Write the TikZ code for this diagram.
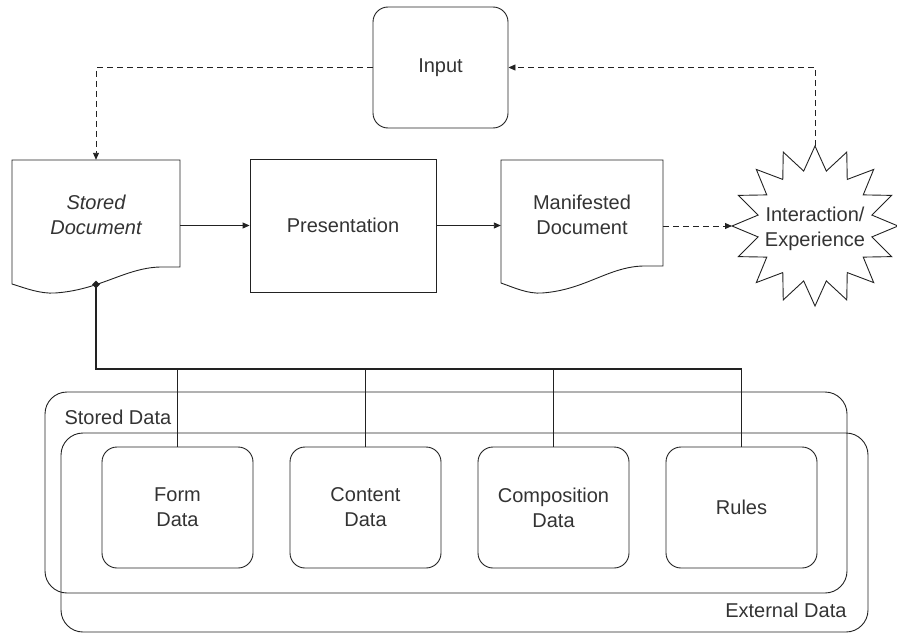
\documentclass[tikz,border=0pt]{standalone}
\usepackage{fontspec}
\setmainfont{Liberation Sans}
\usetikzlibrary{arrows.meta,shapes.geometric}
\definecolor{ink}{HTML}{222222}
\definecolor{txtc}{HTML}{333333}
\begin{document}
\begin{tikzpicture}[x=1pt,y=-1pt,
  ln/.style={draw=ink,line width=0.9pt},
  arr/.style={ln,-{Triangle[length=7pt,width=6pt]}},
  dsh/.style={arr,dash pattern=on 6pt off 4pt},
  txt/.style={text=txtc,font=\fontsize{20}{25}\selectfont,align=center},
  rbox/.style={ln,rounded corners=15pt,minimum width=151pt,minimum height=121pt,inner sep=0pt,txt},
  frame/.style={minimum width=#1,minimum height=124pt,inner sep=0pt}
]
\useasboundingbox (0,0) rectangle (897,634);

% top row
\node[ln,rounded corners=15pt,minimum width=135pt,minimum height=121pt,txt] (input) at (440.5,67.5) {Input};
\node[frame=168pt] (sd) at (96,222) {};
\node[ln,minimum width=186pt,minimum height=133pt,txt] (pres) at (343,225.5) {Presentation};
\node[frame=162pt] (man) at (582,222) {};

\draw[ln] (12,160) -- (180,160) -- (180,267) -- (160,267)
  .. controls (125,268) and (100,290) .. (55,293)
  .. controls (40,294) and (25,288) .. (12,284) -- cycle;
\node[txt,font=\fontsize{20}{25}\selectfont\itshape] (sdtext) at (96,215) {Stored\\Document};

\draw[ln] (501,160) -- (663,160) -- (663,266) -- (643,266)
  .. controls (608,267) and (585,290) .. (542,293)
  .. controls (528,294) and (515,288) .. (501,283) -- cycle;
\node[txt] (mantext) at (582,215) {Manifested\\Document};

% star
\draw[ln] plot[variable=\k, samples at={0,1,...,31}]
  ({815+(isodd(\k)?58:83)*cos(90+11.25*\k)}, {226-(isodd(\k)?56:80)*sin(90+11.25*\k)}) -- cycle;
\node[txt] (star) at (815,229) {Interaction/\\Experience};
\coordinate (starW) at (732,226);
\coordinate (starN) at (815,146);

% connectors
\draw[dsh] (input.west) -| (sd.north);
\draw[arr] (sd.east |- pres.west) -- (pres.west);
\draw[arr] (pres.east) -- (man.west |- pres.east);
\draw[dsh] (man.east |- starW) -- (starW);
\draw[dsh] (starN) |- (input.east);

% data containers
\draw[ln,rounded corners=22pt] (45,392) rectangle (847,593);
\draw[ln,rounded corners=22pt] (61,433) rectangle (868,632);
\node[txt,anchor=west] (sdlab) at (61,417) {Stored Data};
\node[txt,anchor=east] (edlab) at (850,610) {External Data};

\node[rbox] (form) at (177.5,507.5) {Form\\Data};
\node[rbox] (content) at (365.5,507.5) {Content\\Data};
\node[rbox] (comp) at (553.5,507.5) {Composition\\Data};
\node[rbox] (rules) at (741.5,507.5) {Rules};

% bus
\node[diamond,fill=ink,inner sep=0pt,minimum size=8pt] (dia) at (96,284.5) {};
\coordinate (bus) at (741.5,369);
\draw[draw=ink,line width=1.6pt] (dia.center) |- (bus);
\foreach \b in {form,content,comp,rules}
  \draw[ln] (\b.north) -- (\b.north |- bus);
\end{tikzpicture}
\end{document}
